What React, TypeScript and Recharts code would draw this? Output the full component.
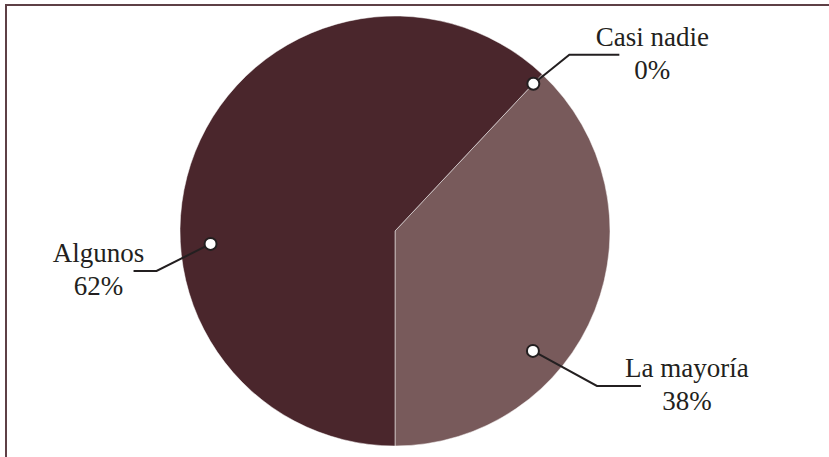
import React from "react";
import { PieChart, Pie, Cell } from "recharts";

// Respuestas (porcentaje)
const categories = ["Casi nadie", "La mayoría", "Algunos"];
const values = [0, 38, 62];
const colors = ["#785a5b", "#785a5b", "#4a262c"];

// ubicación de cada etiqueta respecto a la torta (estilo)
const labelLayout = [
  { angleOffset: 0, radius: 0.94, elbow: [36, -29], run: 50, textDx: 33, dir: 1 },
  { angleOffset: -19.4, radius: 0.85, elbow: [64, 35], run: 44, textDx: 46, dir: 1 },
  { angleOffset: 25.6, radius: 0.86, elbow: [-54, 27], run: 23, textDx: 35, dir: -1 },
];

const data = categories.map((name, i) => ({ name, value: values[i] }));

const RAD = Math.PI / 180;
const FONT = "'Liberation Serif', 'DejaVu Serif', serif";

const renderLabel = (props: any) => {
  const { cx, cy, midAngle, outerRadius, index, name, percent } = props;
  const l = labelLayout[index];
  const a = (midAngle + l.angleOffset) * RAD;
  const mx = cx + outerRadius * l.radius * Math.cos(a);
  const my = cy - outerRadius * l.radius * Math.sin(a);
  const ex = mx + l.elbow[0];
  const ey = my + l.elbow[1];
  const endX = ex + l.dir * l.run;
  const tx = endX + l.dir * l.textDx;
  return (
    <g>
      <polyline
        points={`${mx},${my} ${ex},${ey} ${endX},${ey}`}
        fill="none"
        stroke="#231f20"
        strokeWidth={2}
      />
      <circle cx={mx} cy={my} r={6} fill="#fff" stroke="#231f20" strokeWidth={2} />
      <text
        x={tx}
        y={ey - 9}
        textAnchor="middle"
        style={{ fontFamily: FONT, fontSize: 27 }}
        fill="#231f20"
      >
        {name}
      </text>
      <text
        x={tx}
        y={ey + 24}
        textAnchor="middle"
        style={{ fontFamily: FONT, fontSize: 27 }}
        fill="#231f20"
      >
        {`${Math.round(percent * 100)}%`}
      </text>
    </g>
  );
};

export default function App() {
  return (
    <div
      style={{
        position: "absolute",
        left: 0,
        top: 0,
        width: 829,
        height: 457,
        overflow: "hidden",
        background: "#fff",
      }}
    >
      <div
        style={{
          position: "absolute",
          left: 5,
          top: 4,
          width: 900,
          height: 600,
          border: "2px solid #5e4046",
        }}
      />
      <div style={{ position: "absolute", left: 0, top: 0 }}>
        <PieChart width={829} height={457} margin={{ top: 0, right: 0, bottom: 0, left: 0 }}>
          <Pie
            data={data}
            dataKey="value"
            nameKey="name"
            cx={395}
            cy={231}
            outerRadius={215}
            startAngle={46.8}
            endAngle={-313.2}
            stroke="#fff"
            strokeWidth={0.5}
            label={renderLabel}
            labelLine={false}
            isAnimationActive={false}
          >
            {data.map((d, i) => (
              <Cell key={d.name} fill={colors[i]} />
            ))}
          </Pie>
        </PieChart>
      </div>
    </div>
  );
}
